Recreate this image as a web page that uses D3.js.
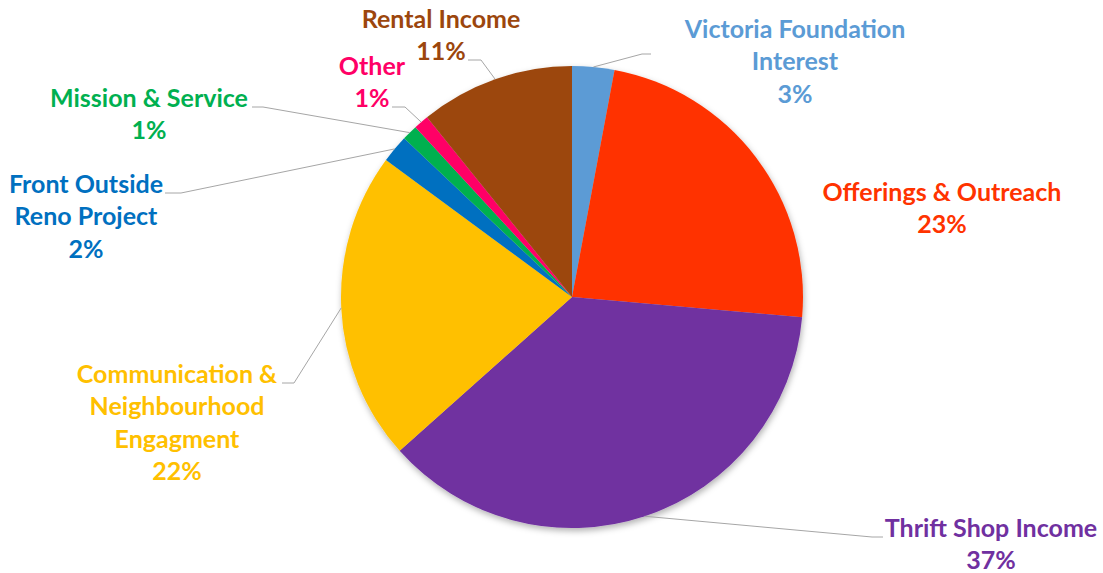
<!DOCTYPE html>
<html>
<head>
<meta charset="utf-8">
<script src="https://cdn.jsdelivr.net/npm/d3@7"></script>
<style>
    body { margin: 0; background: #fff; }
    .label { font-family: Lato, "Liberation Sans", sans-serif; font-weight: bold; font-size: 25px; }
    .leader { fill: none; stroke: #a6a6a6; stroke-width: 1; }
</style>
</head>
<body>
<div id="chart"></div>
<script>
// Slice data, clockwise from 12 o'clock
var categories = ["Victoria Foundation Interest", "Offerings & Outreach", "Thrift Shop Income",
    "Communication & Neighbourhood Engagment", "Front Outside Reno Project",
    "Mission & Service", "Other", "Rental Income"];
var values = [2.95, 23.45, 37.0, 21.7, 1.95, 1.1, 1.05, 10.8];
var colors = ["#5b9bd5", "#ff3300", "#7030a0", "#ffc000", "#0070c0", "#00b050", "#ff0066", "#9c460d"];

// Label text lines (category name broken as in the chart)
var labelLines = [
    ["Victoria Foundation", "Interest"],
    ["Offerings & Outreach"],
    ["Thrift Shop Income"],
    ["Communication &", "Neighbourhood", "Engagment"],
    ["Front Outside", "Reno Project"],
    ["Mission & Service"],
    ["Other"],
    ["Rental Income"]
];

var width = 1103, height = 573;
var cx = 572, cy = 297, radius = 231;
var lineHeight = 32.3;

// Label layout: centre x, first baseline y, leader elbow and leader end (null = no leader)
var labelLayout = [
    { x: 795, y: 38, elbow: [642, 54], end: [651, 54] },
    { x: 942, y: 201, elbow: null, end: null },
    { x: 991, y: 537, elbow: [872, 537], end: [883, 537] },
    { x: 177, y: 383, elbow: [294, 383], end: [282, 383] },
    { x: 86, y: 193, elbow: [181, 193], end: [165, 193] },
    { x: 149, y: 107, elbow: [263, 107], end: [252, 107] },
    { x: 372, y: 75, elbow: [405, 107], end: [392, 107] },
    { x: 441, y: 28, elbow: [481, 60], end: [468, 60] }
];

var total = d3.sum(values);
var data = categories.map(function(c, i) {
    return { name: c, value: values[i], color: colors[i], lines: labelLines[i], layout: labelLayout[i] };
});

var svg = d3.select("#chart")
    .append("svg")
    .attr("width", width)
    .attr("height", height);

// Soft shadow behind the pie
var defs = svg.append("defs");
var filter = defs.append("filter")
    .attr("id", "shadow")
    .attr("x", "-10%").attr("y", "-10%")
    .attr("width", "120%").attr("height", "120%");
filter.append("feDropShadow")
    .attr("dx", 1)
    .attr("dy", 3)
    .attr("stdDeviation", 3)
    .attr("flood-color", "#000")
    .attr("flood-opacity", 0.3);

var pie = d3.pie()
    .sort(null)
    .value(function(d) { return d.value; });

var arc = d3.arc()
    .innerRadius(0)
    .outerRadius(radius);

var arcs = pie(data);

var g = svg.append("g")
    .attr("transform", "translate(" + cx + "," + cy + ")");

var slices = g.append("g").attr("filter", "url(#shadow)");
slices.selectAll("path")
    .data(arcs)
    .enter()
    .append("path")
    .attr("d", arc)
    .attr("fill", function(d) { return d.data.color; });

// Leader lines start on the rim at each slice's mid angle
svg.selectAll(".leader")
    .data(arcs.filter(function(d) { return d.data.layout.elbow; }))
    .enter()
    .append("polyline")
    .attr("class", "leader")
    .attr("points", function(d) {
        var a = (d.startAngle + d.endAngle) / 2;
        var sx = cx + radius * Math.sin(a), sy = cy - radius * Math.cos(a);
        var L = d.data.layout;
        return [[sx, sy], L.elbow, L.end].map(function(p) { return p.join(","); }).join(" ");
    });

// Labels: name lines plus rounded percent
var labels = svg.selectAll(".label")
    .data(arcs)
    .enter()
    .append("text")
    .attr("class", "label")
    .attr("text-anchor", "middle")
    .attr("fill", function(d) { return d.data.color; });

labels.each(function(d) {
    var t = d3.select(this);
    var lines = d.data.lines.concat([Math.round(d.data.value / total * 100) + "%"]);
    lines.forEach(function(line, i) {
        t.append("tspan")
            .attr("x", d.data.layout.x)
            .attr("y", d.data.layout.y + i * lineHeight)
            .text(line);
    });
});
</script>
</body>
</html>
